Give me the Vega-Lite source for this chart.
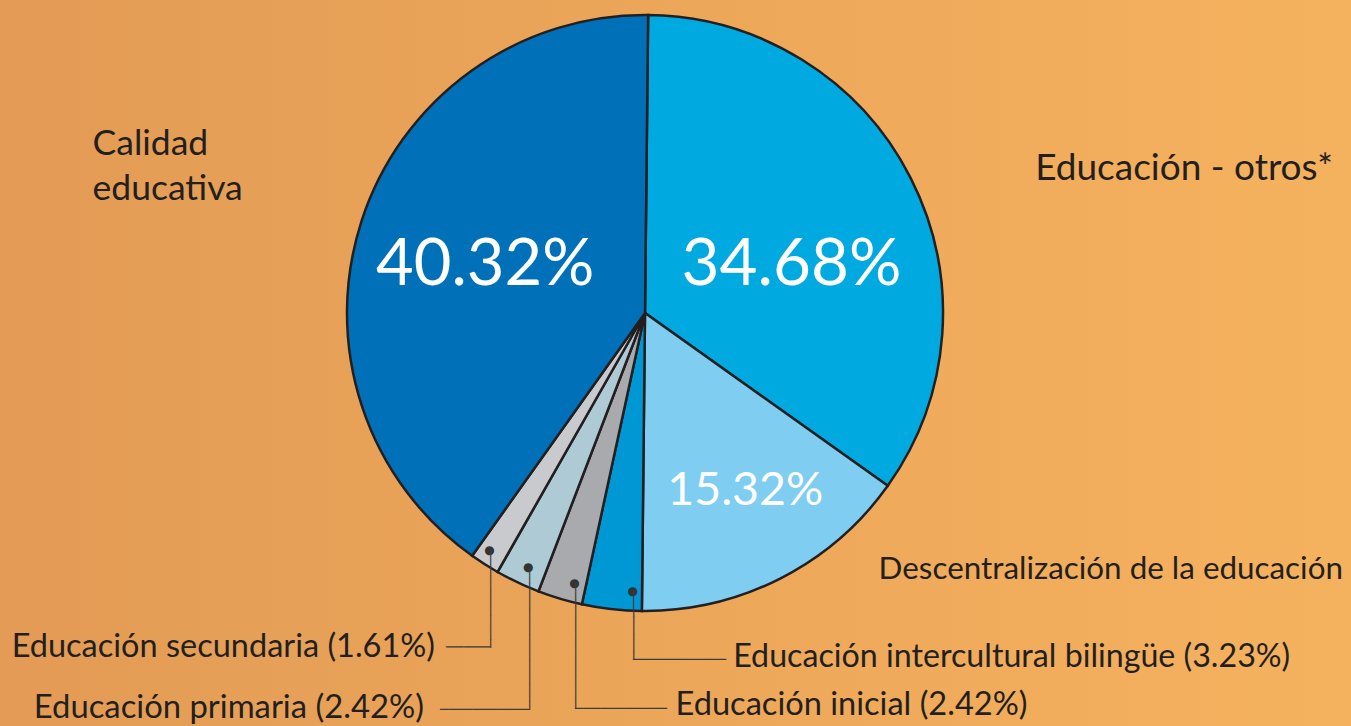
{
  "$schema": "https://vega.github.io/schema/vega-lite/v6.json",
  "width": 1412,
  "height": 826,
  "autosize": "none",
  "padding": {"left": -61, "top": -100, "right": 0, "bottom": 0},
  "background": "#EBA659",
  "config": {"view": {"stroke": null}},
  "data": {"values": [
    {"categoria": "Educación - otros*", "porcentaje": 0.3468, "orden": 1},
    {"categoria": "Descentralización de la educación", "porcentaje": 0.1532, "orden": 2},
    {"categoria": "Educación intercultural bilingüe", "porcentaje": 0.0323, "orden": 3},
    {"categoria": "Educación inicial", "porcentaje": 0.0242, "orden": 4},
    {"categoria": "Educación primaria", "porcentaje": 0.0242, "orden": 5},
    {"categoria": "Educación secundaria", "porcentaje": 0.0161, "orden": 6},
    {"categoria": "Calidad educativa", "porcentaje": 0.4032, "orden": 7}
  ]},
  "layer": [
    {"data": {"values": [{}]},
     "mark": {"type": "rect", "fill": {"gradient": "linear", "x1": 0, "y1": 0, "x2": 1, "y2": 0,
        "stops": [{"offset": 0, "color": "#E29A54"}, {"offset": 0.043, "color": "#E39B55"}, {"offset": 1, "color": "#F5B25E"}]}}},
    {"encoding": {
      "theta": {"field": "porcentaje", "type": "quantitative", "stack": true, "scale": {"range": [0.0105, 6.2937]}},
      "order": {"field": "orden", "type": "quantitative"}
     },
     "layer": [
    {"mark": {"type": "arc", "outerRadius": 298, "stroke": "#231F20", "strokeWidth": 2.5},
     "encoding": {"color": {"field": "categoria", "type": "nominal", "legend": null,
       "scale": {"domain": ["Educación - otros*", "Descentralización de la educación", "Educación intercultural bilingüe", "Educación inicial", "Educación primaria", "Educación secundaria", "Calidad educativa"],
                 "range": ["#00A9E0", "#7FCDF0", "#0097D5", "#A8AAAD", "#ADCAD5", "#C8CACD", "#0071B8"]}}}},

    {"mark": {"type": "text", "font": "Lato", "fontSize": 65, "fill": "#FFFFFF", "align": "center", "baseline": "alphabetic", "radius": 168, "dy": 24},
     "encoding": {"text": {"condition": {"test": "datum.categoria === 'Calidad educativa'", "field": "porcentaje", "type": "quantitative", "format": ".2%"}, "value": ""}}},
    {"mark": {"type": "text", "font": "Lato", "fontSize": 65.5, "fill": "#FFFFFF", "align": "center", "baseline": "alphabetic", "radius": 165, "dx": -0.5, "dy": 47},
     "encoding": {"text": {"condition": {"test": "datum.categoria === 'Educación - otros*'", "field": "porcentaje", "type": "quantitative", "format": ".2%"}, "value": ""}}},
    {"mark": {"type": "text", "font": "Lato", "fontSize": 46.5, "fill": "#FFFFFF", "align": "center", "baseline": "alphabetic", "radius": 210, "dx": 5, "dy": 5},
     "encoding": {"text": {"condition": {"test": "datum.categoria === 'Descentralización de la educación'", "field": "porcentaje", "type": "quantitative", "format": ".2%"}, "value": ""}}},

    {"mark": {"type": "text", "font": "Lato", "fontSize": 35.5, "fill": "#231F20", "align": "left", "baseline": "alphabetic", "lineBreak": " ", "lineHeight": 45, "radius": 500, "dx": -77, "dy": -3.5},
     "encoding": {"text": {"condition": {"test": "datum.categoria === 'Calidad educativa'", "field": "categoria", "type": "nominal"}, "value": ""}}},
    {"mark": {"type": "text", "font": "Lato", "fontSize": 37, "fill": "#231F20", "align": "left", "baseline": "alphabetic", "radius": 440, "dx": -2, "dy": 66.7},
     "encoding": {"text": {"condition": {"test": "datum.categoria === 'Educación - otros*'", "field": "categoria", "type": "nominal"}, "value": ""}}},
    {"mark": {"type": "text", "font": "Lato", "fontSize": 31.4, "fill": "#231F20", "align": "left", "baseline": "alphabetic", "radius": 310, "dx": 93, "dy": -10},
     "encoding": {"text": {"condition": {"test": "datum.categoria === 'Descentralización de la educación'", "field": "categoria", "type": "nominal"}, "value": ""}}},

    {"mark": {"type": "text", "font": "DejaVu Sans", "fontSize": 12, "fill": "#333333", "align": "center", "baseline": "middle", "radius": 280, "dx": 18.9, "dy": 0},
     "encoding": {"text": {"condition": {"test": "datum.categoria === 'Educación intercultural bilingüe'", "value": "●"}, "value": ""}}},
    {"mark": {"type": "text", "font": "DejaVu Sans", "fontSize": 14.33, "fill": "#3C3C3C", "align": "left", "baseline": "middle", "angle": 90, "radius": 280, "dx": -0.3, "dy": -19.2},
     "encoding": {"text": {"condition": {"test": "datum.categoria === 'Educación intercultural bilingüe'", "value": "────────"}, "value": ""}}},
    {"mark": {"type": "text", "font": "DejaVu Sans", "fontSize": 14.04, "fill": "#3C3C3C", "align": "left", "baseline": "middle", "radius": 280, "dx": 19.2, "dy": 68.7},
     "encoding": {"text": {"condition": {"test": "datum.categoria === 'Educación intercultural bilingüe'", "value": "───────────"}, "value": ""}}},
    {"mark": {"type": "text", "font": "Lato", "fontSize": 32.2, "fill": "#231F20", "align": "left", "baseline": "alphabetic", "radius": 280, "dx": 119.5, "dy": 75.7,
       "text": {"expr": "datum.categoria === 'Educación intercultural bilingüe' ? datum.categoria + ' (' + format(datum.porcentaje, '.2%') + ')' : ''"}}},

    {"mark": {"type": "text", "font": "DejaVu Sans", "fontSize": 12, "fill": "#333333", "align": "center", "baseline": "middle", "radius": 280, "dx": 9.5, "dy": 1.4},
     "encoding": {"text": {"condition": {"test": "datum.categoria === 'Educación inicial'", "value": "●"}, "value": ""}}},
    {"mark": {"type": "text", "font": "DejaVu Sans", "fontSize": 13.95, "fill": "#3C3C3C", "align": "left", "baseline": "middle", "angle": 90, "radius": 280, "dx": 1.7, "dy": -10},
     "encoding": {"text": {"condition": {"test": "datum.categoria === 'Educación inicial'", "value": "───────────────"}, "value": ""}}},
    {"mark": {"type": "text", "font": "DejaVu Sans", "fontSize": 13.89, "fill": "#3C3C3C", "align": "left", "baseline": "middle", "radius": 280, "dx": 10, "dy": 127.7},
     "encoding": {"text": {"condition": {"test": "datum.categoria === 'Educación inicial'", "value": "───────────"}, "value": ""}}},
    {"mark": {"type": "text", "font": "Lato", "fontSize": 32.6, "fill": "#231F20", "align": "left", "baseline": "alphabetic", "radius": 280, "dx": 110.5, "dy": 133.7,
       "text": {"expr": "datum.categoria === 'Educación inicial' ? datum.categoria + ' (' + format(datum.porcentaje, '.2%') + ')' : ''"}}},

    {"mark": {"type": "text", "font": "DejaVu Sans", "fontSize": 12, "fill": "#333333", "align": "center", "baseline": "middle", "radius": 280, "dx": 3, "dy": 0.6},
     "encoding": {"text": {"condition": {"test": "datum.categoria === 'Educación primaria'", "value": "●"}, "value": ""}}},
    {"mark": {"type": "text", "font": "DejaVu Sans", "fontSize": 13.97, "fill": "#3C3C3C", "align": "left", "baseline": "middle", "angle": 90, "radius": 280, "dx": 0.9, "dy": -3.7},
     "encoding": {"text": {"condition": {"test": "datum.categoria === 'Educación primaria'", "value": "─────────────────"}, "value": ""}}},
    {"mark": {"type": "text", "font": "DejaVu Sans", "fontSize": 13.44, "fill": "#3C3C3C", "align": "right", "baseline": "middle", "radius": 280, "dx": 3.7, "dy": 143.9},
     "encoding": {"text": {"condition": {"test": "datum.categoria === 'Educación primaria'", "value": "───────────"}, "value": ""}}},
    {"mark": {"type": "text", "font": "Lato", "fontSize": 32.8, "fill": "#231F20", "align": "right", "baseline": "alphabetic", "radius": 280, "dx": -101.3, "dy": 151.9,
       "text": {"expr": "datum.categoria === 'Educación primaria' ? datum.categoria + ' (' + format(datum.porcentaje, '.2%') + ')' : ''"}}},

    {"mark": {"type": "text", "font": "DejaVu Sans", "fontSize": 12, "fill": "#333333", "align": "center", "baseline": "middle", "radius": 280, "dx": -4.8, "dy": 1},
     "encoding": {"text": {"condition": {"test": "datum.categoria === 'Educación secundaria'", "value": "●"}, "value": ""}}},
    {"mark": {"type": "text", "font": "DejaVu Sans", "fontSize": 13.57, "fill": "#3C3C3C", "align": "left", "baseline": "middle", "angle": 90, "radius": 280, "dx": 1, "dy": 4.3},
     "encoding": {"text": {"condition": {"test": "datum.categoria === 'Educación secundaria'", "value": "────────────"}, "value": ""}}},
    {"mark": {"type": "text", "font": "DejaVu Sans", "fontSize": 14.62, "fill": "#3C3C3C", "align": "right", "baseline": "middle", "radius": 280, "dx": -4.3, "dy": 99},
     "encoding": {"text": {"condition": {"test": "datum.categoria === 'Educación secundaria'", "value": "─────"}, "value": ""}}},
    {"mark": {"type": "text", "font": "Lato", "fontSize": 32.5, "fill": "#231F20", "align": "right", "baseline": "alphabetic", "radius": 280, "dx": -59.3, "dy": 108,
       "text": {"expr": "datum.categoria === 'Educación secundaria' ? datum.categoria + ' (' + format(datum.porcentaje, '.2%') + ')' : ''"}}}
     ]
    }
  ]
}
